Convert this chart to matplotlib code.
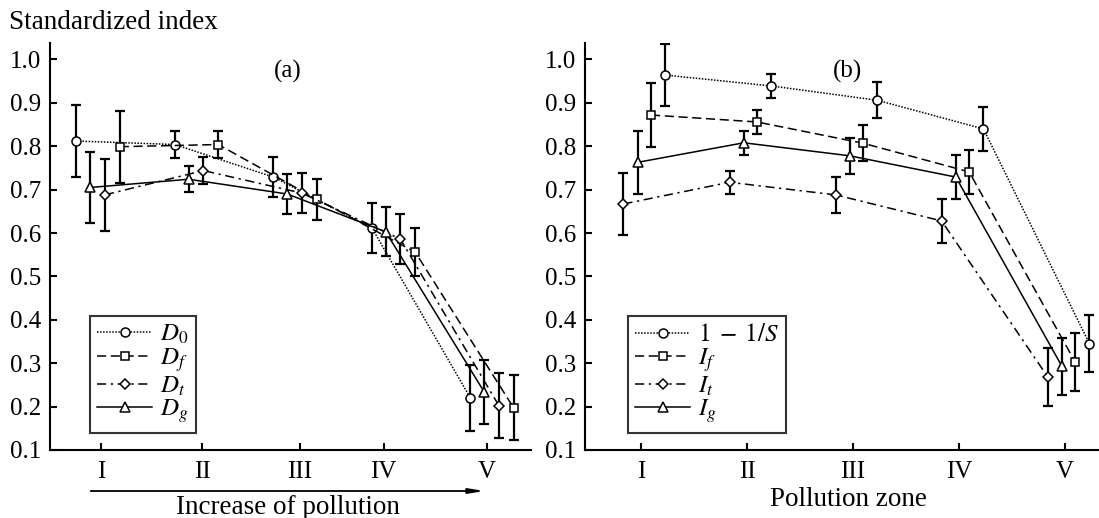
#!/usr/bin/python3
import matplotlib
matplotlib.use('Agg')
import matplotlib.pyplot as plt
import numpy as np

zones = ['I', 'II', 'III', 'IV', 'V']
zone_x = np.array([1, 2, 3, 4, 5], dtype=float)
ticks_a = [1.0, 2.03, 3.02, 3.87, 4.92]
ticks_b = [1, 2, 3, 4, 5]

# panel (a)
labels_a = ['$D_0$', '$D_f$', '$D_t$', '$D_g$']
d0 = [0.812, 0.804, 0.729, 0.612, 0.220]
d0_err = [0.083, 0.031, 0.046, 0.057, 0.076]
df = [0.799, 0.804, 0.678, 0.556, 0.197]
df_err = [0.083, 0.031, 0.047, 0.055, 0.075]
dt = [0.688, 0.744, 0.692, 0.586, 0.202]
dt_err = [0.083, 0.031, 0.046, 0.057, 0.075]
dg = [0.705, 0.724, 0.690, 0.603, 0.234]
dg_err = [0.082, 0.030, 0.045, 0.056, 0.074]
shift_a = [-0.25, 0.19, 0.04, -0.11]

# panel (b)
labels_b = ['$1\\;-\\;1/S$', '$I_f$', '$I_t$', '$I_g$']
s_inv = [0.964, 0.939, 0.906, 0.840, 0.345]
s_inv_err = [0.072, 0.027, 0.042, 0.050, 0.066]
i_f = [0.872, 0.856, 0.807, 0.741, 0.303]
i_f_err = [0.073, 0.028, 0.042, 0.050, 0.066]
i_t = [0.667, 0.717, 0.688, 0.628, 0.269]
i_t_err = [0.072, 0.026, 0.041, 0.050, 0.067]
i_g = [0.763, 0.808, 0.778, 0.729, 0.293]
i_g_err = [0.072, 0.027, 0.041, 0.050, 0.066]
shift_b = [0.23, 0.095, -0.165, -0.03]

styles = [((0, (1, 1)), 'o'), ((0, (6, 3)), 's'), ((0, (6, 3, 1.5, 3)), 'D'), ('-', '^')]
msizes = [6.5, 6, 5.5, 6.5]


def draw(ax, ys, errs, shifts, labels, ticks, xlim):
    for y, e, sh, lab, (ls, mk), ms in zip(ys, errs, shifts, labels, styles, msizes):
        x = zone_x + sh
        ax.errorbar(x, y, yerr=e, fmt='none', ecolor='black', elinewidth=1.6,
                    capsize=3.5, capthick=1.6, zorder=2)
        ax.plot(x, y, linestyle=ls, marker=mk, color='black', lw=1.1,
                markersize=ms, markerfacecolor='white', markeredgecolor='black',
                markeredgewidth=1.1, label=lab, zorder=3)
    ax.set_xlim(*xlim)
    ax.set_ylim(0.1, 1.038)
    ax.set_xticks(ticks)
    ax.set_xticklabels(zones)
    ax.set_yticks(np.arange(0.1, 1.01, 0.1))
    ax.set_yticklabels(['%.1f' % v for v in np.arange(0.1, 1.01, 0.1)])
    for side in ['top', 'right']:
        ax.spines[side].set_visible(False)
    for side in ['left', 'bottom']:
        ax.spines[side].set_linewidth(1.5)
    ax.tick_params(direction='in', length=5, width=1.5, labelsize=18)
    ax.tick_params(axis='y', pad=6.5)
    ax.tick_params(axis='x', pad=8)
    leg = ax.legend(loc='lower left', bbox_to_anchor=(0.083, 0.042), borderaxespad=0,
                    fontsize=18, handlelength=2.2, handletextpad=0.3, labelspacing=0.0,
                    fancybox=False, edgecolor='black', borderpad=0.3)
    leg.get_frame().set_linewidth(1.5)


if __name__ == '__main__':
    plt.rcParams['font.family'] = ['Liberation Serif', 'DejaVu Serif']
    plt.rcParams['mathtext.fontset'] = 'stix'

    fig = plt.figure(figsize=(10.99, 5.18), dpi=100)
    ax1 = fig.add_axes([0.0455, 0.1313, 0.4377, 0.7857])
    ax2 = fig.add_axes([0.5323, 0.1313, 0.4677, 0.7857])

    draw(ax1, [d0, df, dt, dg], [d0_err, df_err, dt_err, dg_err], shift_a,
         labels_a, ticks_a, (0.482, 5.366))
    draw(ax2, [s_inv, i_f, i_t, i_g], [s_inv_err, i_f_err, i_t_err, i_g_err], shift_b,
         labels_b, ticks_b, (0.472, 5.32))

    ax1.text(0.495, 0.93, '(a)', transform=ax1.transAxes, ha='center', va='center', fontsize=18)
    ax2.text(0.51, 0.93, '(b)', transform=ax2.transAxes, ha='center', va='center', fontsize=18)

    fig.text(0.008, 0.957, 'Standardized index', ha='left', va='center', fontsize=19.5)

    ax1.annotate('', xy=(487 / 1099, 1 - 491 / 518), xytext=(88 / 1099, 1 - 491 / 518),
                 xycoords='figure fraction', textcoords='figure fraction',
                 arrowprops=dict(arrowstyle='-|>,head_length=0.9,head_width=0.15',
                                 color='black', lw=1.3))
    fig.text(288 / 1099, 1 - 507 / 518, 'Increase of pollution', ha='center', va='center', fontsize=19.5)
    fig.text(848 / 1099, 1 - 500 / 518, 'Pollution zone', ha='center', va='center', fontsize=19.5)

    fig.savefig('out.png', dpi=100)
